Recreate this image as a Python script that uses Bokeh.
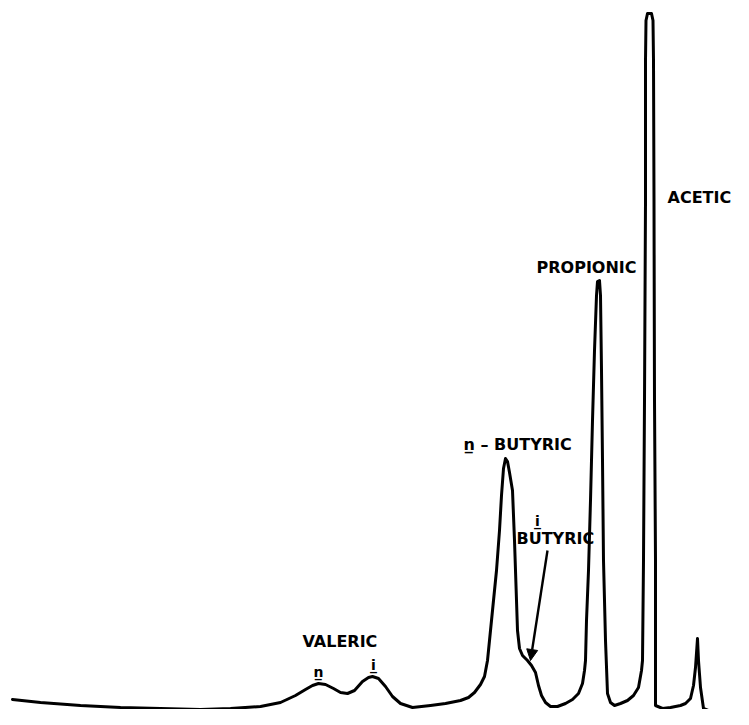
from bokeh.plotting import figure
from bokeh.models import Range1d, Arrow, NormalHead
from bokeh.core.properties import value
from bokeh.embed import file_html
from bokeh.resources import INLINE

# Chromatogram trace (retention position, detector response)
retention_time = [12, 40, 80, 120, 160, 200, 230, 260, 280, 295, 305, 312, 318, 325, 333, 340,
                  347, 354, 362, 368, 372, 378, 385, 392, 400, 412, 430, 445, 460, 468, 474, 480,
                  484, 487, 490, 493, 496, 499, 501, 503, 505, 507, 509, 512, 514, 516, 517, 519,
                  522, 527, 531, 535, 538, 541, 545, 550, 557, 565, 572, 578, 582, 584, 585, 586,
                  588, 590, 592, 594, 596, 597, 599, 600, 601, 602, 603, 605, 607, 610, 614, 620,
                  627, 633, 638, 641, 642, 643, 644, 645, 645, 645.5, 647, 651, 652.5, 653, 653.5,
                  654, 655, 655, 655, 662, 670, 680, 685, 690, 693, 695, 697, 698, 700, 703, 708,
                  712, 712, 749]
detector_response = [26, 23, 20, 18, 17, 16, 17, 19, 23, 30, 36, 40, 42, 41, 37, 33,
                     32, 35, 44, 48, 49, 47, 39, 29, 22, 18, 20, 22, 25, 28, 33, 41,
                     49, 65, 95, 125, 155, 195, 230, 257, 267, 264, 253, 235, 185, 125, 95, 77,
                     70, 65, 60, 53, 40, 30, 23, 19, 19, 22, 26, 32, 42, 55, 65, 105,
                     155, 225, 305, 375, 430, 444, 445, 430, 355, 265, 165, 85, 32, 23, 20, 22,
                     25, 30, 38, 55, 65, 165, 325, 525, 665, 705, 712, 712, 705, 665, 525,
                     325, 165, 60, 20, 17, 18, 20, 22, 27, 40, 58, 87, 65, 38, 17, 15,
                     14, 9, 9]

# Peak labels: (text, x, baseline, alignment, font size)
label_text = ["ACETIC", "PROPIONIC", "n\u0332 \u2013 BUTYRIC", "i\u0332", "BUTYRIC",
              "VALERIC", "n\u0332", "i\u0332"]
label_x = [667, 536, 463, 537, 516, 302, 318, 373]
label_base = [528, 458, 281, 205, 187, 84, 54, 61]
label_align = ["left", "left", "left", "center", "left", "left", "center", "center"]
label_size = ["16px", "16px", "16px", "14px", "16px", "16px", "14px", "14px"]

# i-butyric pointer (from label toward shoulder)
arrow_start = (547, 175)
arrow_end = (530, 65)

p = figure(width=733, height=709, output_backend="svg", toolbar_location=None,
           x_range=Range1d(0, 733), y_range=Range1d(16, 725), min_border=0)
p.axis.visible = False
p.grid.visible = False
p.outline_line_color = None
p.background_fill_color = "white"
p.border_fill_color = "white"

p.line(retention_time, detector_response, line_color="black", line_width=3,
       line_join="round", line_cap="round")

for t, x, y, a, s in zip(label_text, label_x, label_base, label_align, label_size):
    p.text(x=[x], y=[y], text=[t], text_font=value("DejaVu Sans"), text_font_style="bold",
           text_font_size=s, text_align=a, text_baseline="alphabetic", text_color="black")

p.add_layout(Arrow(end=NormalHead(size=11, fill_color="black", line_color="black"),
                   x_start=arrow_start[0], y_start=arrow_start[1],
                   x_end=arrow_end[0], y_end=arrow_end[1],
                   line_width=2.4, line_color="black"))

open("out.html", "w").write(file_html(p, INLINE))
